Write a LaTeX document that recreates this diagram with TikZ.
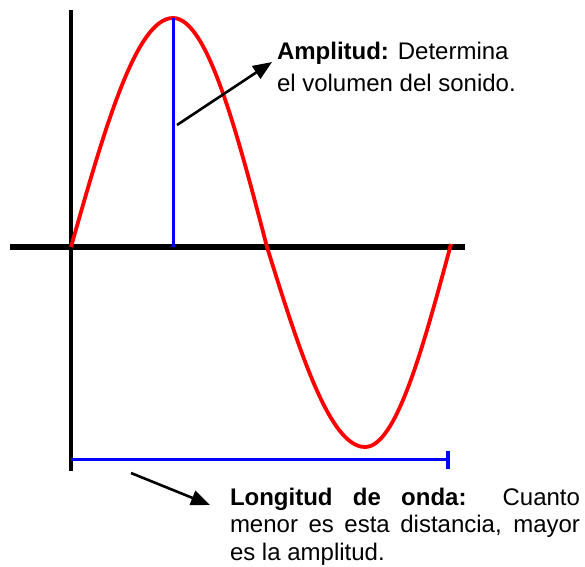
\documentclass[tikz,border=0pt]{standalone}
\usepackage{fontspec}
\setmainfont{Liberation Sans}
\usepackage{tikz}
\usetikzlibrary{positioning, arrows.meta}

\begin{document}
\begin{tikzpicture}[x=1pt, y=-1pt,
	axis/.style={draw=black, line width=4.5pt},
	wave/.style={draw=red, line width=3.8pt, line join=round},
	measure/.style={draw=blue, line width=3.2pt},
	callout/.style={draw=black, line width=2.6pt, -{Triangle[length=19pt, width=15pt]}},
	label/.style={inner sep=0pt, outer sep=0pt, font=\fontsize{24}{32}\selectfont}]
		\useasboundingbox (0,0) rectangle (585,566);
		
		% Axes
		\coordinate (o) at (71,247);
		\coordinate (ytop) at (71,10);
		\coordinate (ybot) at (71,471);
		\coordinate (xleft) at (10,247);
		\coordinate (xright) at (465,247);
		\draw[axis, line width=4pt] (ytop) -- (ybot);
		\draw[axis, line width=5.5pt] (xleft) -- (xright);
		
		% Wave
		\coordinate (peak) at (173,18);
		\coordinate (zero) at (267,247);
		\coordinate (trough) at (365,447);
		\coordinate (end) at (451,244);
		\draw[wave] (o) sin (peak) cos (zero) sin (trough) cos (end);
		
		% Amplitude and wavelength
		\coordinate (base) at (173,247);
		\coordinate (l0) at (71,459.5);
		\coordinate (l1) at (448,459.5);
		\draw[measure, line width=3pt] (peak) -- (base);
		\draw[measure, line width=3.8pt] (l0) -- (l1);
		\draw[measure] ([yshift=-9.5pt]l1) -- ([yshift=8.5pt]l1);
		
		% Labels
		\node[label, anchor=north west, align=left] (amp) at (277,42)
			{\textbf{Amplitud:} Determina\\el volumen del sonido.};
		\node[label, anchor=north west, text width=350pt, align=justify,
			font=\fontsize{24}{27.5}\selectfont] (len) at (230,488)
			{\textbf{Longitud de onda:} Cuanto\linebreak menor es esta distancia, mayor\linebreak es la amplitud.};
		
		% Arrows
		\coordinate (a0) at (177,125);
		\coordinate (a1) at (272,62);
		\coordinate (b0) at (131,473);
		\coordinate (b1) at (210,505);
		\draw[callout] (a0) -- (a1);
		\draw[callout] (b0) -- (b1);
	\end{tikzpicture}
\end{document}
